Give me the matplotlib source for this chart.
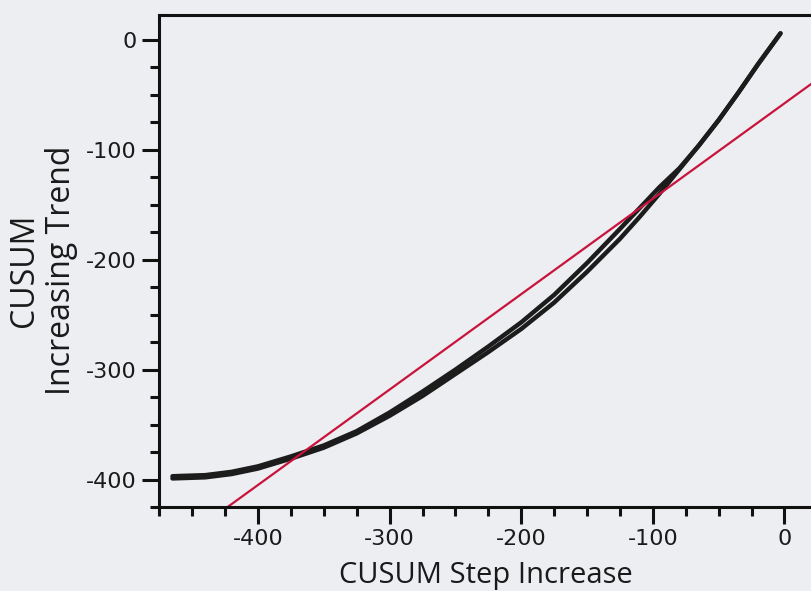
import matplotlib
matplotlib.use("Agg")
import matplotlib.pyplot as plt
from matplotlib.ticker import MultipleLocator

plt.rcParams["axes.unicode_minus"] = False

# Lower strand of the CUSUM curve
strand_a_x = [-465, -440, -420, -400, -375, -350, -325, -300, -275, -250, -225,
              -200, -175, -150, -125, -110, -95, -80, -65, -50, -35, -20, -3]
strand_a_y = [-399, -398, -395, -390, -381, -371, -358, -342, -324, -304, -284,
              -263, -239, -211, -181, -161, -140, -118, -96, -73, -48, -22, 6]
# Upper strand (nearly overlapping)
strand_b_x = [-465, -440, -420, -400, -375, -350, -325, -300, -275, -250, -225,
              -200, -175, -150, -125, -110, -95, -80, -65, -50, -35, -20, -3]
strand_b_y = [-397, -396, -393, -388, -379, -369, -356, -339, -320, -300, -279,
              -257, -232, -203, -172, -153, -134, -117, -96, -73, -48, -22, 6]

# Red reference line endpoints
ref_x = [-430, 25]
ref_y = [-431.0, -36.0]

x_ticks = [-400, -300, -200, -100, 0]
y_ticks = [0, -100, -200, -300, -400]

bg = "#eceef1"
fig = plt.figure(figsize=(8.11, 5.91), dpi=100, facecolor=bg)
ax = fig.add_axes([159.3 / 811, 1 - 507 / 591, 1 - 159.3 / 811, (507 - 15) / 591])
ax.set_facecolor(bg)

ax.plot(strand_a_x, strand_a_y, color="#1c1c1c", lw=3.2, solid_capstyle="round")
ax.plot(strand_b_x, strand_b_y, color="#1c1c1c", lw=3.2, solid_capstyle="round")
ax.plot(ref_x, ref_y, color="#c8143c", lw=1.6)

ax.set_xlim(-475, 20.2)
ax.set_ylim(-425, 22.7)

ax.set_xticks(x_ticks)
ax.set_yticks(y_ticks)
ax.xaxis.set_minor_locator(MultipleLocator(25))
ax.yaxis.set_minor_locator(MultipleLocator(25))

for s in ["left", "bottom", "top"]:
    ax.spines[s].set_linewidth(2.2)
    ax.spines[s].set_color("#111111")
ax.spines["right"].set_visible(False)

ax.tick_params(which="major", length=12, width=2.2, color="#111111",
               labelsize=16, labelcolor="#1a1a1a", pad=4)
ax.tick_params(which="minor", length=6.5, width=2.2, color="#111111")
for lab in ax.get_xticklabels() + ax.get_yticklabels():
    lab.set_family("DejaVu Sans")

fig.text(486 / 811, 1 - 576 / 591, "CUSUM Step Increase", ha="center", va="center",
         fontsize=21, family="Open Sans", color="#1a1a1a")
fig.text(43 / 811, 1 - 270 / 591, "CUSUM\nIncreasing Trend", ha="center", va="center",
         rotation=90, fontsize=23, family="Open Sans", color="#1a1a1a",
         multialignment="center", linespacing=1.15)

fig.savefig("out.png", dpi=100, facecolor=bg)
